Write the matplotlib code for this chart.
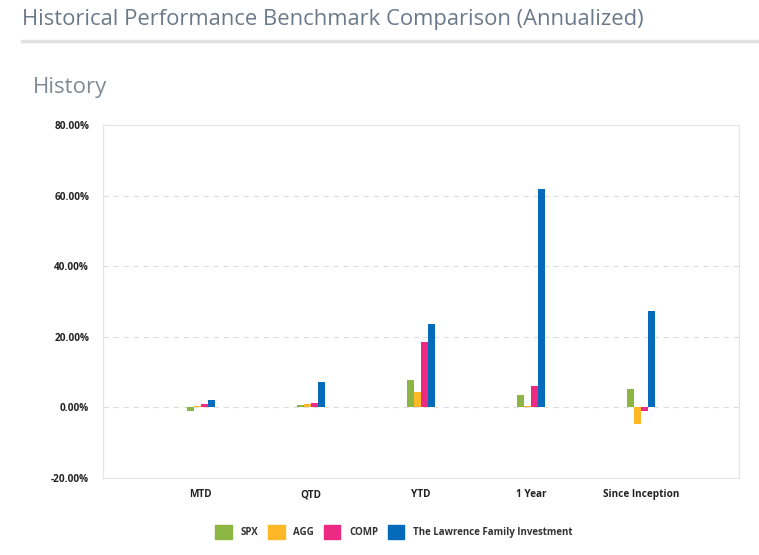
import matplotlib
matplotlib.use("Agg")
import matplotlib.pyplot as plt
import numpy as np
from matplotlib.patches import Rectangle
from matplotlib.lines import Line2D

categories = ["MTD", "QTD", "YTD", "1 Year", "Since Inception"]
series_names = ["SPX", "AGG", "COMP", "The Lawrence Family Investment"]
spx = [-1.1, 0.7, 7.7, 3.4, 5.1]
agg = [0.3, 1.0, 4.3, 0.5, -4.8]
comp = [1.0, 1.3, 18.4, 6.2, -1.0]
lawrence = [2.1, 7.2, 23.5, 61.8, 27.2]
yticks = [-20, 0, 20, 40, 60, 80]
ytick_labels = ["-20.00%", "0.00%", "20.00%", "40.00%", "60.00%", "80.00%"]
colors = ["#8db543", "#fcb827", "#ec2a83", "#046bba"]

W, H = 759, 555
fig = plt.figure(figsize=(W / 100, H / 100), dpi=100)

fig.text(22 / W, 1 - 20 / H, "Historical Performance Benchmark Comparison (Annualized)",
         fontsize=15.8, color="#6b7a8a", family="Open Sans",
         va="center", ha="left")
fig.add_artist(Line2D([22 / W, 1.0], [1 - 41 / H, 1 - 41 / H], color="#e2e2e2", lw=2.5,
                      transform=fig.transFigure))
fig.text(33 / W, 1 - 88 / H, "History", fontsize=16, color="#7d8b99",
         family="Open Sans", va="center", ha="left")

ax = fig.add_axes([103 / W, 1 - 478 / H, (739 - 103) / W, (478 - 125) / H])
x = np.arange(len(categories))
bw = 0.062
data = [spx, agg, comp, lawrence]
for i, (vals, c, n) in enumerate(zip(data, colors, series_names)):
    ax.bar(x + (i - 1.5) * bw, vals, width=bw, color=c, label=n, zorder=3, linewidth=0)

ax.set_xlim(-0.89, 4.89)
ax.set_ylim(-20, 80)
ax.set_yticks(yticks)
ax.set_yticklabels(ytick_labels)
ax.set_xticks(x)
ax.set_xticklabels(categories)
for t in ax.get_yticklabels() + ax.get_xticklabels():
    t.set_fontweight("bold")
    t.set_fontsize(7.2)
    t.set_family("Open Sans")
    t.set_color("#222222")
ax.tick_params(axis="both", length=0)
ax.tick_params(axis="y", pad=10)
ax.tick_params(axis="x", pad=8)
for y in [0, 20, 40, 60]:
    ax.axhline(y, color="#dddddd", lw=0.8, ls=(0, (5, 4)), zorder=1)
for s in ax.spines.values():
    s.set_color("#e6e6e6")
    s.set_linewidth(0.9)

handles = [Rectangle((0, 0), 1, 1, color=c) for c in colors]
fig.legend(handles, series_names, loc="center", bbox_to_anchor=(394 / W, 1 - 532 / H),
           ncol=4, frameon=False, handlelength=1.7, handleheight=1.7, handletextpad=0.9,
           columnspacing=1.0, prop={"size": 7.0, "weight": "bold", "family": "Open Sans"})
for t in fig.legends[0].get_texts():
    t.set_color("#333333")

fig.savefig("out.png", dpi=100)
